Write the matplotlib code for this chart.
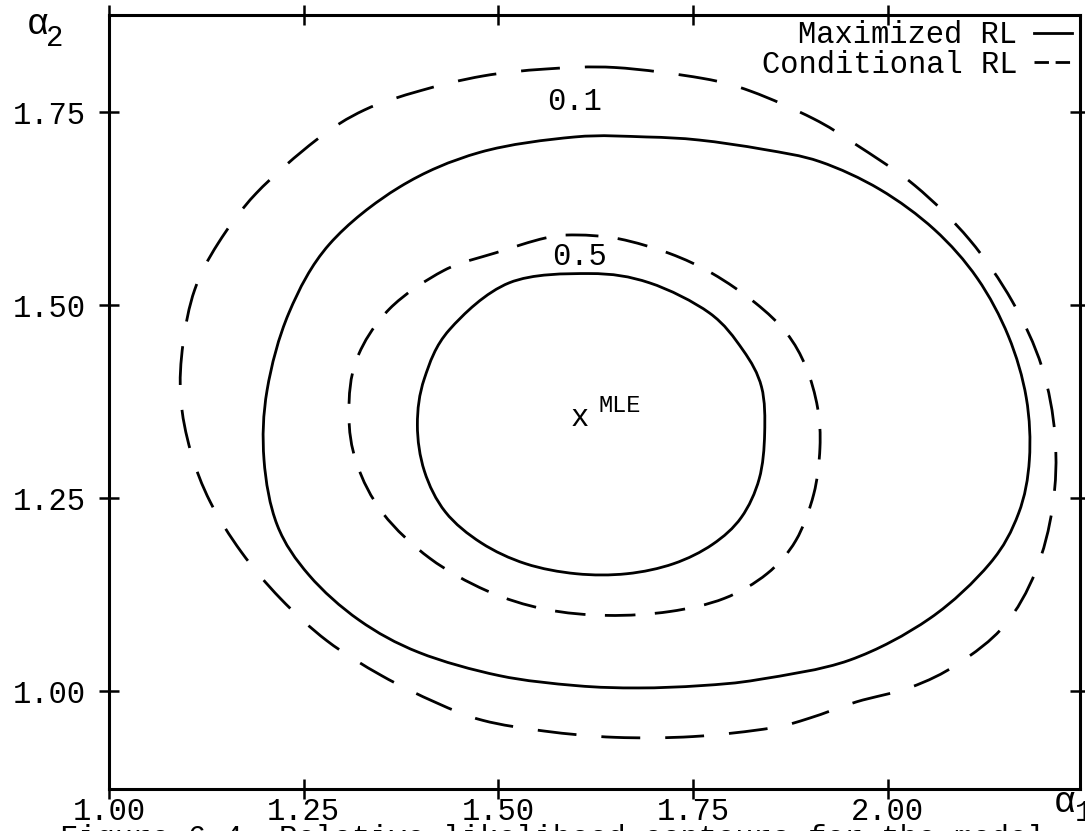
import matplotlib
matplotlib.use("Agg")
import matplotlib.pyplot as plt
from matplotlib.lines import Line2D
from matplotlib.path import Path
from matplotlib.patches import PathPatch

# ---------------- data ----------------
x_ticks = [1.00, 1.25, 1.50, 1.75, 2.00]
x_ticklabels = ["1.00", "1.25", "1.50", "1.75", "2.00"]
y_ticks = [1.00, 1.25, 1.50, 1.75]
y_ticklabels = ["1.00", "1.25", "1.50", "1.75"]

# Maximized RL, level 0.1 (outer solid)
max01_x = [1.598, 1.690, 1.758, 1.840, 1.913, 1.990, 2.060, 2.115, 2.155, 2.178, 2.182, 2.168,
           2.131, 2.054, 1.951, 1.835, 1.760, 1.680, 1.600, 1.501, 1.398, 1.321, 1.257, 1.216,
           1.199, 1.203, 1.231, 1.283, 1.373, 1.476]
max01_y = [1.718, 1.718, 1.714, 1.702, 1.686, 1.650, 1.598, 1.535, 1.460, 1.380, 1.300, 1.230,
           1.165, 1.094, 1.040, 1.015, 1.007, 1.004, 1.007, 1.020, 1.050, 1.092, 1.150, 1.215,
           1.300, 1.390, 1.490, 1.579, 1.653, 1.698]

# Conditional RL, level 0.1 (outer dashed)
cond01_x = [1.650, 1.762, 1.825, 1.904, 1.958, 2.035, 2.105, 2.160, 2.198, 2.215, 2.212, 2.190,
            2.150, 2.090, 2.030, 1.960, 1.900, 1.850, 1.750, 1.650, 1.560, 1.480, 1.420, 1.350,
            1.280, 1.220, 1.170, 1.130, 1.105, 1.092, 1.095, 1.110, 1.140, 1.189, 1.266, 1.328,
            1.400, 1.480, 1.560]
cond01_y = [1.808, 1.794, 1.777, 1.742, 1.709, 1.655, 1.585, 1.505, 1.420, 1.330, 1.240, 1.155,
            1.085, 1.035, 1.005, 0.986, 0.965, 0.952, 0.941, 0.940, 0.948, 0.962, 0.985, 1.020,
            1.065, 1.120, 1.180, 1.245, 1.310, 1.380, 1.450, 1.520, 1.580, 1.645, 1.714, 1.753,
            1.778, 1.797, 1.806]

# Maximized RL, level 0.5 (inner solid)
max05_x = [1.617, 1.694, 1.771, 1.814, 1.838, 1.842, 1.835, 1.812, 1.775, 1.725, 1.665, 1.600,
           1.535, 1.478, 1.432, 1.405, 1.396, 1.405, 1.437, 1.514]
max05_y = [1.541, 1.529, 1.490, 1.442, 1.394, 1.334, 1.275, 1.225, 1.190, 1.165, 1.152, 1.152,
           1.165, 1.192, 1.232, 1.285, 1.345, 1.405, 1.468, 1.529]

# Conditional RL, level 0.5 (inner dashed)
cond05_x = [1.600, 1.655, 1.720, 1.775, 1.830, 1.870, 1.895, 1.910, 1.913, 1.905, 1.882, 1.845,
            1.790, 1.720, 1.640, 1.560, 1.485, 1.412, 1.352, 1.318, 1.308, 1.318, 1.360, 1.430,
            1.497, 1.560]
cond05_y = [1.591, 1.586, 1.567, 1.541, 1.503, 1.464, 1.420, 1.367, 1.315, 1.255, 1.195, 1.152,
            1.120, 1.103, 1.098, 1.106, 1.130, 1.172, 1.230, 1.295, 1.360, 1.430, 1.495, 1.545,
            1.568, 1.587]

level_labels = ["0.1", "0.5"]
level_label_x = [1.598, 1.604]
level_label_y = [1.763, 1.562]

mle_x, mle_y = 1.604, 1.354

series_names = ["Maximized RL", "Conditional RL"]


def closed_smooth_path(xs, ys):
    """Closed Catmull-Rom curve through the read points, as cubic Bezier segments."""
    pts = list(zip(xs, ys))
    n = len(pts)
    verts = [pts[0]]
    codes = [Path.MOVETO]
    for i in range(n):
        p0 = pts[(i - 1) % n]
        p1 = pts[i]
        p2 = pts[(i + 1) % n]
        p3 = pts[(i + 2) % n]
        c1 = (p1[0] + (p2[0] - p0[0]) / 6.0, p1[1] + (p2[1] - p0[1]) / 6.0)
        c2 = (p2[0] - (p3[0] - p1[0]) / 6.0, p2[1] - (p3[1] - p1[1]) / 6.0)
        verts += [c1, c2, p2]
        codes += [Path.CURVE4] * 3
    return Path(verts, codes)


# ---------------- figure ----------------
FONT = "Liberation Mono"
plt.rcParams["font.family"] = [FONT, "DejaVu Sans Mono"]

fig = plt.figure(figsize=(10.85, 8.31), dpi=100)
ax = fig.add_axes([0.1005, 0.0505, 0.8949, 0.9314])
ax.set_xlim(1.0, 2.247)
ax.set_ylim(0.873, 1.876)

lw = 2.0
styles = [
    (max01_x, max01_y, "solid"),
    (max05_x, max05_y, "solid"),
    (cond01_x, cond01_y, (0, (14, 9))),
    (cond05_x, cond05_y, (3, (11, 7))),
]
for xs, ys, ls in styles:
    ax.add_patch(PathPatch(closed_smooth_path(xs, ys), facecolor="none", edgecolor="black",
                           lw=lw, linestyle=ls, capstyle="butt", joinstyle="round"))

fs = 22
for t, lx, ly in zip(level_labels, level_label_x, level_label_y):
    ax.text(lx, ly, t, fontsize=fs, ha="center", va="center")

ax.text(mle_x, mle_y, "x", fontsize=fs, ha="center", va="center")
ax.text(mle_x + 0.025, mle_y + 0.016, "MLE", fontsize=17, ha="left", va="center")

# axes styling
for s in ax.spines.values():
    s.set_linewidth(2.2)
ax.set_xticks(x_ticks)
ax.set_xticklabels(x_ticklabels)
ax.set_yticks(y_ticks)
ax.set_yticklabels(y_ticklabels)
ax.tick_params(axis="both", which="major", direction="inout", length=15, width=1.8,
               labelsize=fs, top=True, right=True)
ax.tick_params(axis="x", pad=-2)
ax.tick_params(axis="y", pad=9)

# axis labels (alpha_2 at top-left, alpha_1 at bottom-right)
fig.text(27 / 1085, 1 - 24 / 831, "α", fontsize=26, ha="left", va="center")
fig.text(46 / 1085, 1 - 38 / 831, "2", fontsize=21, ha="left", va="center")
fig.text(1054 / 1085, 1 - 803 / 831, "α", fontsize=26, ha="left", va="center")
fig.text(1075 / 1085, 1 - 813 / 831, "1", fontsize=21, ha="left", va="center")

# legend (text left of sample, right-aligned)
handles = [Line2D([], [], color="black", lw=lw),
           Line2D([], [], color="black", lw=lw, linestyle=(0, (5.2, 2.4)))]
leg = ax.legend(handles, series_names, loc="upper right", bbox_to_anchor=(0.992, 0.993),
                frameon=False, markerfirst=False, fontsize=fs, handlelength=1.25,
                handletextpad=0.55, borderpad=0.0, borderaxespad=0.0, labelspacing=-0.03)
try:
    for col in leg._legend_handle_box.get_children():
        col.align = "right"
except Exception:
    pass

# partially visible caption (cut by page edge)
fig.text(60 / 1085, 0.008, "Figure 6.4. Relative likelihood contours for the model",
         fontsize=fs, ha="left", va="top")

fig.savefig("out.png", dpi=100)
